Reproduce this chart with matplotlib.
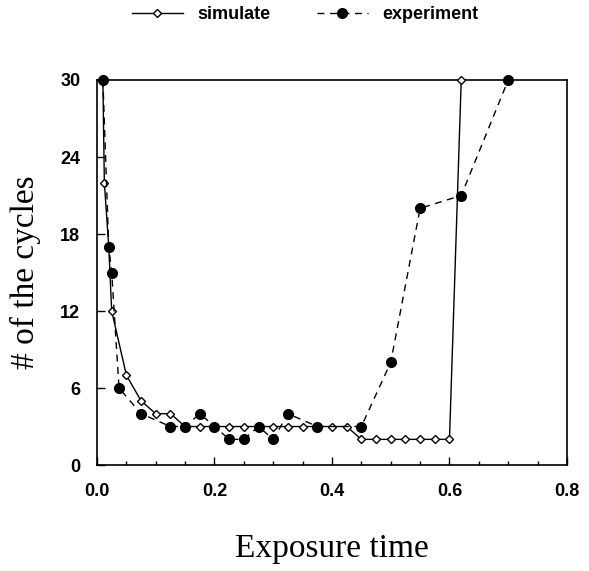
import matplotlib.pyplot as plt
from matplotlib.ticker import MultipleLocator

# simulated number of cycles
sim_x = [0.01, 0.0125, 0.02, 0.025, 0.05, 0.075, 0.1, 0.125, 0.15, 0.175, 0.2,
         0.225, 0.25, 0.275, 0.3, 0.325, 0.35, 0.375, 0.4, 0.425, 0.45, 0.475,
         0.5, 0.525, 0.55, 0.575, 0.6, 0.62]
sim_y = [30, 22, 17, 12, 7, 5, 4, 4, 3, 3, 3,
         3, 3, 3, 3, 3, 3, 3, 3, 3, 2, 2,
         2, 2, 2, 2, 2, 30]

# experimental number of cycles
exp_x = [0.01, 0.02, 0.025, 0.0375, 0.075, 0.125, 0.15, 0.175, 0.2, 0.225, 0.25,
         0.275, 0.3, 0.325, 0.375, 0.45, 0.5, 0.55, 0.62, 0.7]
exp_y = [30, 17, 15, 6, 4, 3, 3, 4, 3, 2, 2,
         3, 2, 4, 3, 3, 8, 20, 21, 30]

sans = "Liberation Sans"
serif = "Liberation Serif"

fig = plt.figure(figsize=(5.89, 5.71), dpi=100)
ax = fig.add_axes([0.1647, 0.1856, 0.7979, 0.6743])

ax.plot(sim_x, sim_y, color="black", lw=1.0, marker="D", ms=4.5,
        mfc="white", mec="black", mew=1.0, label="simulate", clip_on=False, zorder=3)
ax.plot(exp_x, exp_y, color="black", lw=1.0, ls=(0, (5, 4)), marker="o", ms=7,
        mfc="black", mec="black", label="experiment", clip_on=False, zorder=4)

ax.set_xlim(0, 0.8)
ax.set_ylim(0, 30)
ax.set_xticks([0.0, 0.2, 0.4, 0.6, 0.8])
ax.set_xticklabels(["0.0", "0.2", "0.4", "0.6", "0.8"])
ax.set_yticks([0, 6, 12, 18, 24, 30])
ax.xaxis.set_minor_locator(MultipleLocator(0.05))
ax.tick_params(which="both", direction="in", top=False, right=False)
ax.tick_params(which="major", length=6, width=1)
ax.tick_params(axis="x", which="major", pad=13)
ax.tick_params(axis="y", which="major", pad=12)
ax.tick_params(which="minor", length=3, width=1)
for lab in ax.get_xticklabels() + ax.get_yticklabels():
    lab.set_fontfamily(sans)
    lab.set_fontsize(13)
    lab.set_fontweight("bold")
for sp in ax.spines.values():
    sp.set_linewidth(1.2)

ax.set_xlabel("Exposure time", fontfamily=serif, fontsize=24, labelpad=24)
ax.set_ylabel("# of the cycles", fontfamily=serif, fontsize=24, labelpad=14)

ax.legend(loc="center", bbox_to_anchor=(0.443, 1.17), ncol=2, frameon=False,
          handlelength=2.8, handletextpad=0.8, columnspacing=2.6,
          prop={"family": sans, "size": 13, "weight": "bold"})

fig.savefig("out.png", dpi=100)
